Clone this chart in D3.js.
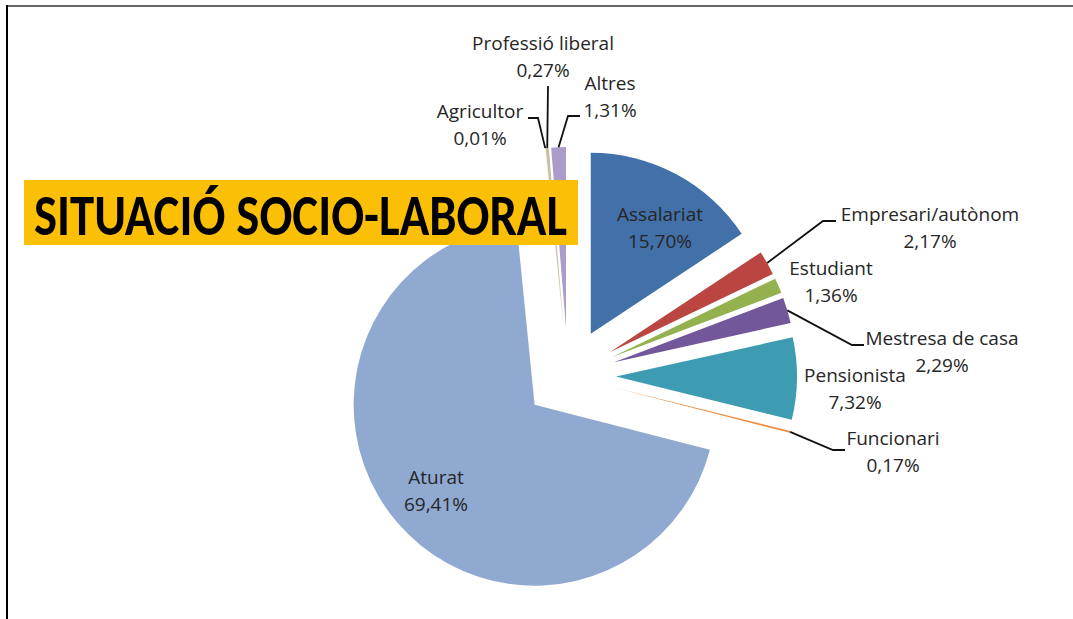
<!DOCTYPE html>
<html>
<head>
    <meta charset="UTF-8">
    <script src="https://d3js.org/d3.v7.min.js"></script>
    <style>
     body { margin: 0; background: #fff; }
     text { font-family: "Open Sans", Carlito, Calibri, sans-serif; }
     .title { font-family: Carlito, Calibri, Lato, sans-serif; }
    </style>
</head>

<body>
    <div id="chart"></div>
    <script>
     // Data (percentages)
     const categories = ["Assalariat", "Empresari/autònom", "Estudiant", "Mestresa de casa",
                         "Pensionista", "Funcionari", "Aturat", "Agricultor",
                         "Professió liberal", "Altres"];
     const values = [15.70, 2.17, 1.36, 2.29, 7.32, 0.17, 69.41, 0.01, 0.27, 1.31];
     const colors = ["#4270a8", "#bb4541", "#93b24f", "#72579a", "#3d9cb2",
                     "#f08a3e", "#90a9d0", "#b9cf93", "#c9c0a0", "#ab9cca"];
     const title = "SITUACIÓ SOCIO-LABORAL";

     const width = 1073, height = 619;
     const center = {x: 568, y: 376};
     const radius = 181;
     const explode = 48, explodeBig = 44;

     // label layout: text anchor point, and leader elbow points (null = no leader)
     const labelLayout = [
         {x: 660, y: 221, leader: null},
         {x: 930, y: 221, leader: [[823, 221], [836, 221]]},
         {x: 831, y: 275, leader: null},
         {x: 942, y: 345, leader: [[852, 345], [864, 345]]},
         {x: 855, y: 382, leader: null},
         {x: 893, y: 445, leader: [[833, 450], [845, 450]]},
         {x: 436, y: 484, leader: null},
         {x: 480, y: 118, leader: [[538, 118], [528, 118]]},
         {x: 543, y: 50, leader: [[548, 86]]},
         {x: 610, y: 90, leader: [[568, 116], [580, 116]]}
     ];

     const svg = d3.select("#chart").append("svg")
                   .attr("width", width)
                   .attr("height", height);

     // frame lines
     svg.append("line")
        .attr("x1", 7).attr("x2", width).attr("y1", 6).attr("y2", 6)
        .attr("stroke", "#666").attr("stroke-width", 2);
     svg.append("line")
        .attr("x1", 7).attr("x2", 7).attr("y1", 5).attr("y2", height)
        .attr("stroke", "#000").attr("stroke-width", 2);

     const pie = d3.pie().sort(null).value(d => d)(values);
     const arc = d3.arc().innerRadius(0).outerRadius(radius);

     function offsetOf(i) {
         return categories[i] == "Aturat" ? explodeBig : explode;
     }
     function dir(a) { return [Math.sin(a), -Math.cos(a)]; }

     svg.append("g")
        .selectAll("path")
        .data(pie)
        .enter()
        .append("path")
        .attr("d", arc)
        .attr("fill", (d, i) => colors[i])
        .attr("transform", (d, i) => {
            const m = dir((d.startAngle + d.endAngle) / 2);
            const e = offsetOf(i);
            return `translate(${center.x + m[0] * e},${center.y + m[1] * e})`;
        });

     // leader lines
     const lineGen = d3.line();
     pie.forEach((d, i) => {
         const lay = labelLayout[i];
         if (!lay.leader) return;
         const m = dir((d.startAngle + d.endAngle) / 2);
         const e = offsetOf(i) + radius;
         const start = [center.x + m[0] * e, center.y + m[1] * e];
         svg.append("path")
            .attr("d", lineGen([start].concat(lay.leader)))
            .attr("fill", "none")
            .attr("stroke", "#111")
            .attr("stroke-width", 1.8);
     });

     // labels
     const labels = svg.append("g")
         .selectAll("text")
         .data(pie)
         .enter()
         .append("text")
         .attr("text-anchor", "middle")
         .attr("font-size", 19)
         .attr("fill", "#262626");
     labels.append("tspan")
         .attr("x", (d, i) => labelLayout[i].x)
         .attr("y", (d, i) => labelLayout[i].y)
         .text((d, i) => categories[i]);
     labels.append("tspan")
         .attr("x", (d, i) => labelLayout[i].x)
         .attr("dy", 27)
         .text((d, i) => values[i].toFixed(2).replace(".", ",") + "%");

     // title box on top
     svg.append("rect")
        .attr("x", 24).attr("y", 180)
        .attr("width", 554).attr("height", 65)
        .attr("fill", "#fbbf05");
     svg.append("text")
        .attr("class", "title")
        .attr("x", 34).attr("y", 235)
        .attr("font-size", 58)
        .attr("font-weight", "bold")
        .attr("fill", "#000")
        .attr("textLength", 533)
        .attr("lengthAdjust", "spacingAndGlyphs")
        .text(title);
    </script>
</body>

</html>
